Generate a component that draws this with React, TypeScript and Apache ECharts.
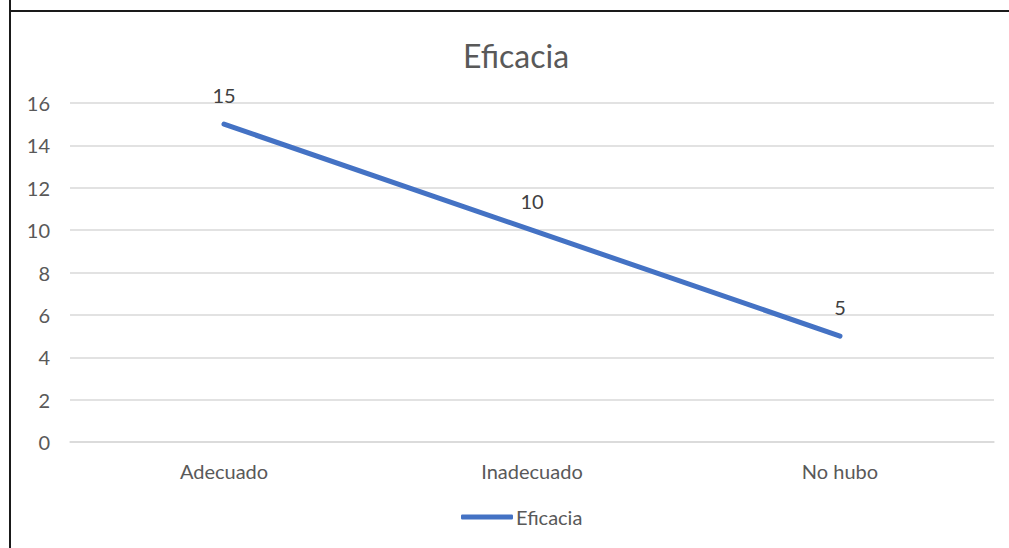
import React, { useEffect, useRef } from "react";
import * as echarts from "echarts";

const categories = ["Adecuado", "Inadecuado", "No hubo"];
const values = [15, 10, 5];
const seriesName = "Eficacia";
const titleText = "Eficacia";

export default function App() {
  const ref = useRef<HTMLDivElement>(null);
  useEffect(() => {
    if (!ref.current) return;
    const chart = echarts.init(ref.current, null, { renderer: "svg" });
    const font = "Lato, 'Open Sans', sans-serif";
    chart.setOption({
      animation: false,
      backgroundColor: "#ffffff",
      title: {
        text: titleText,
        left: 511,
        top: 34,
        textAlign: "center",
        textStyle: { fontFamily: font, fontSize: 32, fontWeight: "normal", color: "#595959" },
      },
      grid: { left: 70, right: 15, top: 103, bottom: 106, containLabel: false },
      xAxis: {
        type: "category",
        data: categories,
        boundaryGap: true,
        axisLine: { show: true, lineStyle: { color: "#d9d9d9", width: 1.5 } },
        axisTick: { show: false },
        axisLabel: { fontFamily: font, fontSize: 20, color: "#595959", margin: 19 },
      },
      yAxis: {
        type: "value",
        min: 0,
        max: 16,
        interval: 2,
        axisLine: { show: false },
        axisTick: { show: false },
        splitLine: { lineStyle: { color: "#d9d9d9", width: 1.5 } },
        axisLabel: { fontFamily: font, fontSize: 20, color: "#595959", margin: 20 },
      },
      legend: {
        data: [seriesName],
        bottom: 16,
        left: 456,
        itemWidth: 52,
        itemHeight: 5,
        itemGap: 4,
        icon: "roundRect",
        itemStyle: { color: "#4472C4", opacity: 1 },
        textStyle: { fontFamily: font, fontSize: 20, color: "#595959", padding: [0, 0, 0, -2] },
      },
      series: [
        {
          name: seriesName,
          type: "line",
          data: values,
          symbol: "circle",
          symbolSize: 1,
          showSymbol: true,
          lineStyle: { color: "#4472C4", width: 5, cap: "round" },
          itemStyle: { color: "#4472C4", opacity: 0 },
          label: {
            show: true,
            position: "top",
            distance: 19,
            fontFamily: font,
            fontSize: 20,
            color: "#404040",
            opacity: 1,
          },
        },
      ],
      graphic: [
        { type: "line", shape: { x1: 10, y1: 0, x2: 10, y2: 548 }, style: { stroke: "#1a1a1a", lineWidth: 2 } },
        { type: "line", shape: { x1: 9, y1: 11, x2: 1009, y2: 11 }, style: { stroke: "#1a1a1a", lineWidth: 2 } },
      ],
    });
    return () => chart.dispose();
  }, []);
  return (
    <div
      ref={ref}
      style={{ position: "absolute", left: 0, top: 0, width: 1009, height: 548 }}
    />
  );
}
